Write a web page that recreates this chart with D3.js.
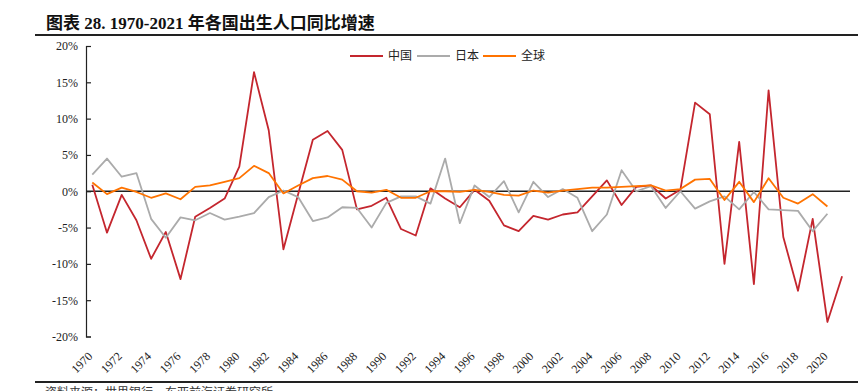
<!DOCTYPE html>
<html>
<head>
<meta charset="utf-8">
<script src="https://cdn.jsdelivr.net/npm/d3@7"></script>
<style>
  body { margin: 0; background: #fff; }
  text { font-family: "Liberation Serif", "Noto Sans CJK SC", serif; }
</style>
</head>
<body>
<div class="chart"></div>
<script>
const years = [1970, 1971, 1972, 1973, 1974, 1975, 1976, 1977, 1978, 1979,
    1980, 1981, 1982, 1983, 1984, 1985, 1986, 1987, 1988, 1989,
    1990, 1991, 1992, 1993, 1994, 1995, 1996, 1997, 1998, 1999,
    2000, 2001, 2002, 2003, 2004, 2005, 2006, 2007, 2008, 2009,
    2010, 2011, 2012, 2013, 2014, 2015, 2016, 2017, 2018, 2019,
    2020, 2021]

// % yoy, China runs to 2021, Japan / world to 2020
const china = [0.9, -5.7, -0.5, -4.0, -9.3, -5.6, -12.1, -3.5, -2.3, -1.0,
    3.4, 16.4, 8.4, -8.0, -0.4, 7.1, 8.3, 5.7, -2.5, -2.0,
    -0.9, -5.2, -6.1, 0.4, -1.0, -2.2, 0.2, -1.3, -4.7, -5.5,
    -3.4, -3.9, -3.2, -2.9, -0.7, 1.5, -1.9, 0.6, 0.8, -1.0,
    0.2, 12.2, 10.6, -10.0, 6.8, -12.8, 13.9, -6.3, -13.7, -3.8,
    -18.0, -11.7]
const japan = [2.3, 4.5, 2.0, 2.5, -3.8, -6.4, -3.6, -4.0, -3.0, -3.9,
    -3.5, -3.0, -0.8, 0.1, -0.8, -4.1, -3.6, -2.2, -2.3, -5.0,
    -1.6, -0.7, -0.7, -1.7, 4.5, -4.4, 0.8, -0.8, 1.4, -2.9,
    1.3, -0.8, 0.3, -0.9, -5.5, -3.2, 2.9, 0.0, 0.7, -2.3,
    0.0, -2.4, -1.4, -0.7, -2.5, -0.1, -2.5, -2.6, -2.7, -5.5,
    -3.1]
const world = [1.2, -0.4, 0.5, -0.1, -0.9, -0.3, -1.1, 0.6, 0.8, 1.3,
    1.8, 3.5, 2.5, -0.3, 0.8, 1.8, 2.1, 1.6, 0.0, -0.2,
    0.2, -0.9, -0.9, 0.0, 0.0, -0.1, 0.2, -0.1, -0.5, -0.6,
    0.1, -0.2, 0.1, 0.3, 0.5, 0.5, 0.6, 0.7, 0.8, 0.1,
    0.3, 1.6, 1.7, -1.2, 1.3, -1.5, 1.8, -0.9, -1.7, -0.4,
    -2.1]

const seriesNames = ['中国', '日本', '全球']
const seriesColors = ['#C4262E', '#ABABAB', '#FF7300']
const yTicks = [-20, -15, -10, -5, 0, 5, 10, 15, 20]
const xTickLabels = [1970, 1972, 1974, 1976, 1978, 1980, 1982, 1984, 1986, 1988,
    1990, 1992, 1994, 1996, 1998, 2000, 2002, 2004, 2006, 2008,
    2010, 2012, 2014, 2016, 2018, 2020]

const titleText = '图表 28. 1970-2021 年各国出生人口同比增速'
const sourceText = '资料来源：世界银行，东亚前海证券研究所'

const W = 861, H = 391

const svg = d3.select('.chart').append('svg')
    .attr('width', W)
    .attr('height', H)

// header + footer rules
svg.append('text')
    .attr('x', 46)
    .attr('y', 29)
    .attr('font-size', 17)
    .attr('font-weight', 'bold')
    .attr('fill', '#111')
    .text(titleText)

svg.append('line')
    .attr('x1', 35).attr('x2', 858)
    .attr('y1', 35).attr('y2', 35)
    .attr('stroke', '#222')
    .attr('stroke-width', 2)

svg.append('line')
    .attr('x1', 35).attr('x2', 858)
    .attr('y1', 382).attr('y2', 382)
    .attr('stroke', '#222')
    .attr('stroke-width', 2)

// source line sits at the bottom edge, cut off as in the original
svg.append('text')
    .attr('x', 45)
    .attr('y', 397)
    .attr('font-size', 12)
    .attr('fill', '#333')
    .text(sourceText)

let x = d3.scaleLinear()
    .domain([1970, 2021])
    .range([92.3, 842.1])

let y = d3.scaleLinear()
    .domain([-20, 20])
    .range([336.5, 46])

const yAxis = d3.axisLeft(y)
    .tickValues(yTicks)
    .tickSizeInner(-5)
    .tickSizeOuter(-5)
    .tickPadding(8)
    .tickFormat(d => d + '%')

const gy = svg.append('g')
    .attr('transform', 'translate(86,0)')
    .call(yAxis)
gy.selectAll('path, line').attr('stroke', '#222').attr('stroke-width', 1.2)
gy.selectAll('text')
    .attr('font-size', 12)
    .attr('fill', '#222')
    .style('font-family', '"Liberation Serif", serif')

// zero line
svg.append('line')
    .attr('x1', 86).attr('x2', 850)
    .attr('y1', y(0)).attr('y2', y(0))
    .attr('stroke', '#222')
    .attr('stroke-width', 1.5)

// x labels rotated
svg.append('g')
    .selectAll('text')
    .data(xTickLabels)
    .join('text')
    .attr('transform', d => `translate(${x(d) + 1},357) rotate(-45)`)
    .attr('text-anchor', 'end')
    .attr('font-size', 12)
    .attr('fill', '#222')
    .text(d => d)

const line = d3.line()
    .x(d => x(d[0]))
    .y(d => y(d[1]))

const allSeries = [china, japan, world]
allSeries.forEach((vals, i) => {
    svg.append('path')
        .datum(vals.map((v, j) => [years[j], v]))
        .attr('d', line)
        .attr('fill', 'none')
        .attr('stroke', seriesColors[i])
        .attr('stroke-width', 1.8)
        .attr('stroke-linejoin', 'round')
})

// legend
const legend = svg.append('g')
    .attr('transform', 'translate(350,56)')
const legendX = [0, 67, 133]
seriesNames.forEach((name, i) => {
    legend.append('line')
        .attr('x1', legendX[i]).attr('x2', legendX[i] + 33)
        .attr('y1', 0).attr('y2', 0)
        .attr('stroke', seriesColors[i])
        .attr('stroke-width', 2)
    legend.append('text')
        .attr('x', legendX[i] + 38)
        .attr('y', 4)
        .attr('font-size', 12)
        .attr('fill', '#222')
        .text(name)
})
</script>
</body>
</html>
